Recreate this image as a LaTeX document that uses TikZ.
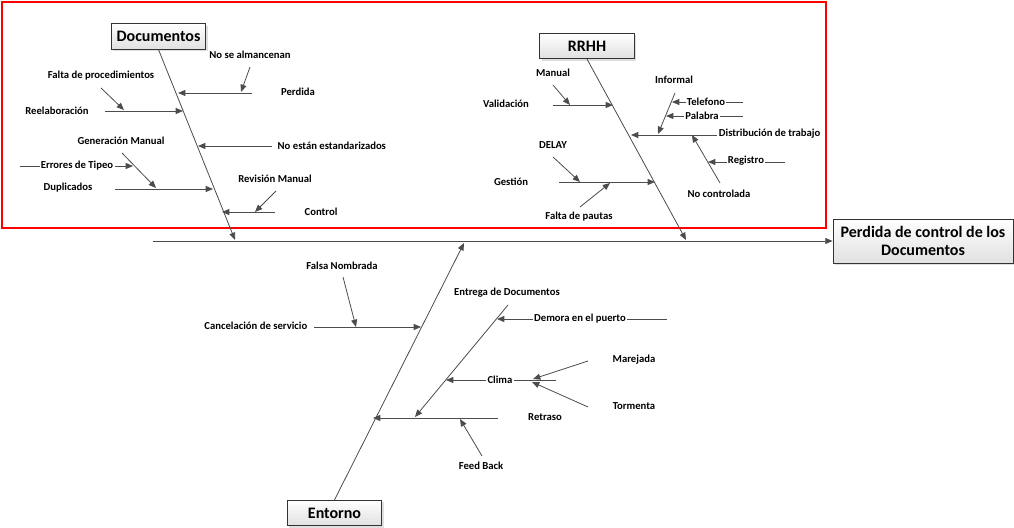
\documentclass[tikz,border=0pt]{standalone}
\usepackage{fontspec}
\setmainfont{Carlito}
\usetikzlibrary{arrows.meta,shadows}

\begin{document}
\begin{tikzpicture}[x=0.75pt,y=-0.75pt,
    lbl/.style={font=\bfseries\fontsize{8}{9}\selectfont},
    onl/.style={lbl,fill=white,inner sep=1pt},
    bone/.style={draw=black!70,line width=0.6pt},
    arr/.style={bone,-{Triangle[length=5.5pt,width=4.5pt]}},
    cause/.style={draw=black!80,line width=0.6pt,top color=white,bottom color=black!12,
      drop shadow={shadow xshift=1.5pt,shadow yshift=-1.5pt,fill=black!25},
      font=\bfseries\fontsize{12}{14}\selectfont,minimum width=71pt,minimum height=19pt}]
  \useasboundingbox (0,0) rectangle (1014,528);

  % frame round the upper causes
  \draw[red,line width=2.2pt] (2,2) rectangle (826,228);

  % causes and effect
  \node[cause] (doc) at (158.5,36.5) {Documentos};
  \node[cause] (rh) at (587,46) {RRHH};
  \node[cause] (ent) at (334.5,513) {Entorno};
  \node[cause,minimum width=135pt,minimum height=33pt,inner sep=1pt,
    align=center] (eff) at (923,241) {Perdida de control de los\\Documentos};

  % end points of the bones
  \foreach \n/\x/\y in {sp/153/241, docb/235/240, rhb/686/240, entb/464/243,
      d1s/252/93, d1e/178/93, d1as/250/67, d1ae/241/92,
      d2s/105/111, d2e/183/111, d2as/101/88, d2ae/124/110,
      d3s/272/146, d3e/198/146,
      d4s/115/189, d4e/213/189, d4as/122/153, d4ae/156/188, d4bs/20/166, d4be/133/166,
      d5s/275/212, d5e/222/212, d5as/276/191, d5ae/255/212,
      r1s/553/105, r1e/613/105, r1as/553/85, r1ae/570/105,
      r2s/717/135, r2e/631/135, r2as/675/93, r2ae/658/134,
      r2bs/743/102, r2be/672/102, r2cs/743/116, r2ce/666/116,
      r2ds/720/183, r2de/692/135, r2es/785/162, r2ee/708/162,
      r3s/559/182, r3e/655/182, r3as/553/157, r3ae/580/182, r3bs/580/207, r3be/610/183,
      e1s/314/327, e1e/421/327, e1as/343/277, e1ae/356/327,
      e2s/498/418, e2e/373/418, e2as/508/305, e2ae/415/417,
      e2bs/667/319, e2be/497/319, e2cs/556/380, e2ce/446/380,
      e2ds/588/361, e2de/533/379, e2es/588/407, e2ee/532/382,
      e2fs/482/456, e2fe/460/419}
    \coordinate (\n) at (\x,\y);

  % spine and main bones
  \draw[arr] (sp) -- (eff.west);
  \draw[arr] (doc.south) -- (docb);
  \draw[arr] (rh.south) -- (rhb);
  \draw[arr] (ent.north) -- (entb);

  \foreach \a in {d1,d1a,d2,d2a,d3,d4,d4a,d4b,d5,d5a,
      r1,r1a,r2,r2a,r2b,r2c,r2d,r2e,r3,r3a,r3b,
      e1,e1a,e2,e2a,e2b,e2c,e2d,e2e,e2f}
    \draw[arr] (\a s) -- (\a e);

  % Documentos
  \node[lbl] (l1) at (298,92) {Perdida};
  \node[lbl] (l2) at (250,55) {No se almancenan};
  \node[lbl] (l3) at (57,111) {Reelaboración};
  \node[lbl] (l4) at (101,76) {Falta de procedimientos};
  \node[lbl,anchor=west] (l5) at (273,146) {No están estandarizados};
  \node[lbl] (l6) at (68,188) {Duplicados};
  \node[lbl] (l7) at (121,141) {Generación Manual};
  \node[onl] (l8) at (77,166) {Errores de Tipeo};
  \node[lbl] (l9) at (321,212) {Control};
  \node[lbl] (l10) at (275,179) {Revisión Manual};

  % RRHH
  \node[lbl] (m1) at (506,104) {Validación};
  \node[lbl] (m2) at (553,73) {Manual};
  \node[lbl,anchor=east,inner sep=1pt] (m3) at (822,134) {Distribución de trabajo};
  \node[lbl] (m4) at (674,80) {Informal};
  \node[onl] (m5) at (706,102) {Telefono};
  \node[onl] (m6) at (702,116) {Palabra};
  \node[lbl] (m7) at (719,194) {No controlada};
  \node[onl] (m8) at (746,161) {Registro};
  \node[lbl] (m9) at (511,182) {Gestión};
  \node[lbl] (m10) at (553,145) {DELAY};
  \node[lbl] (m11) at (579,217) {Falta de pautas};

  % Entorno
  \node[lbl,anchor=east] (n1) at (312,326) {Cancelación de servicio};
  \node[lbl] (n2) at (342,266) {Falsa Nombrada};
  \node[lbl] (n3) at (545,417) {Retraso};
  \node[lbl] (n4) at (507,293) {Entrega de Documentos};
  \node[onl] (n5) at (580,319) {Demora en el puerto};
  \node[onl] (n6) at (500,380) {Clima};
  \node[lbl] (n7) at (634,360) {Marejada};
  \node[lbl] (n8) at (634,406) {Tormenta};
  \node[lbl] (n9) at (481,466) {Feed Back};
\end{tikzpicture}
\end{document}
